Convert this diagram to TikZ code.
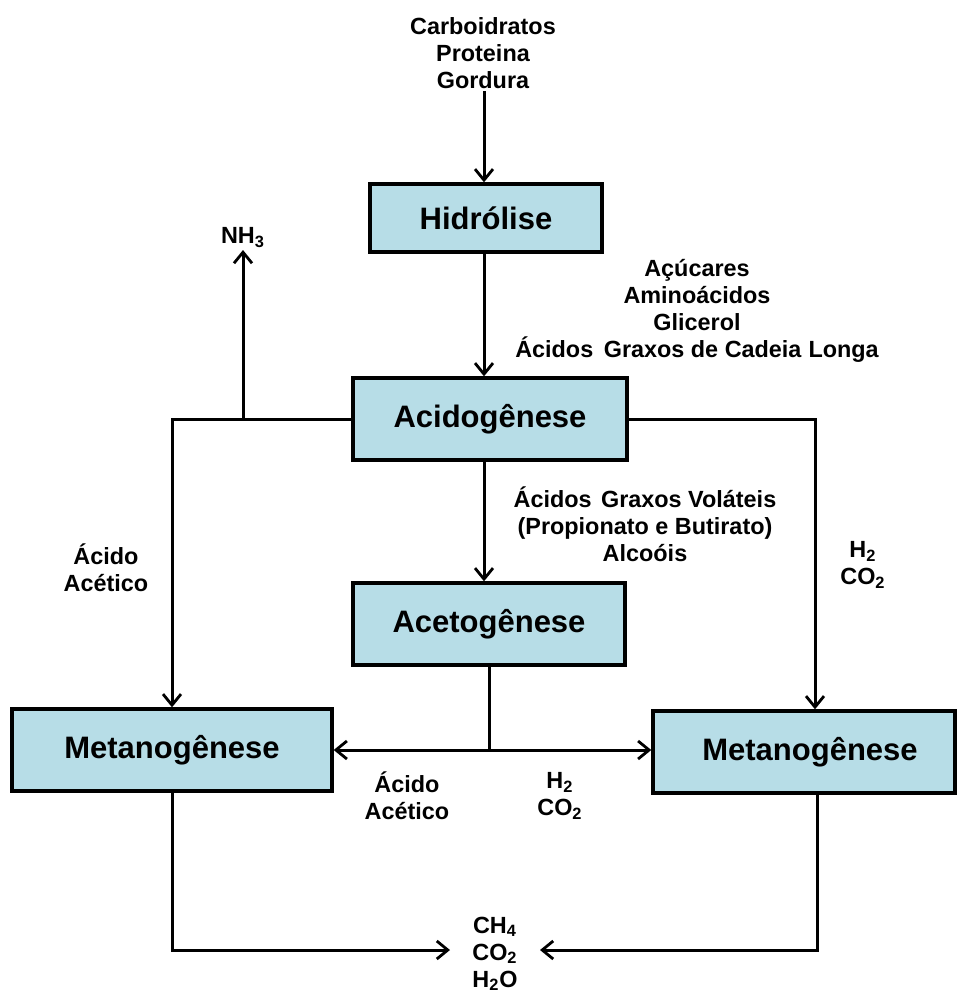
\documentclass[tikz,border=0pt]{standalone}
\usepackage{fontspec}
\setmainfont{Liberation Sans}
\usepackage{tikz}
\usetikzlibrary{calc,arrows.meta}
\definecolor{azulcx}{RGB}{183,221,231}

\begin{document}
\begin{tikzpicture}[x=0.5pt,y=-0.5pt,
    caixa/.style={draw,line width=1.7pt,fill=azulcx,font=\fontsize{15.5}{18}\selectfont\bfseries,inner sep=0pt},
    rot/.style={align=center,inner sep=1pt,font=\fontsize{11.7}{13.5}\selectfont\bfseries},
    seta/.style={-{Straight Barb[length=5.5pt,width=9pt,line width=1.4pt]},line width=1.5pt},
    liga/.style={line width=1.5pt}]
              \useasboundingbox (0,0) rectangle (957,993);
              \node[rot](ent)at(483,53){Carboidratos\\Proteina\\Gordura};
              \node[caixa,minimum width=116pt,minimum height=34pt](hid)at(486,218){Hidrólise};
              \node[caixa,minimum width=137pt,minimum height=41pt](acid)at(490,419){Acidogênese};
              \node[caixa,minimum width=136pt,minimum height=41pt](acet)at(489,624){Acetogênese};
              \node[caixa,minimum width=160pt,minimum height=41pt](metL)at(172,750){Metanogênese};
              \node[caixa,minimum width=151pt,minimum height=41pt](metR)at(804,752){\hspace{6pt}Metanogênese};
              \node[rot](ins)at(697,311){Açúcares\\Aminoácidos\\Glicerol\\Ácidos\hspace{0.45em}Graxos de Cadeia\hspace{0.3em}Longa};
              \node[rot](agv)at(645,524){Ácidos\hspace{0.4em}Graxos Voláteis\\(Propionato e Butirato)\\Alcoóis};
              \node[rot,anchor=south](nh)at(243,250){NH\textsubscript{3}};
              \node[rot](aceL)at(106,568){Ácido\\Acético};
              \node[rot](gasR)at(863,565){H\textsubscript{2}\\CO\textsubscript{2}};
              \node[rot](aceM)at(407,796){Ácido\\Acético};
              \node[rot](gasM)at(560,796){H\textsubscript{2}\\CO\textsubscript{2}};
              \node[rot](prod)at(495,954){CH\textsubscript{4}\\CO\textsubscript{2}\\H\textsubscript{2}O};
              \coordinate(x0)at(484,0);
              \coordinate(nb)at(243,419);
              \coordinate(pl)at(450,950);
              \coordinate(pr)at(540,950);
              \draw[seta](ent.south-|x0)--(x0|-hid.north);
              \draw[seta](x0|-hid.south)--(x0|-acid.north);
              \draw[seta](x0|-acid.south)--(x0|-acet.north);
              \draw[seta](acid.west)-|(metL.north);
              \draw[seta](nb)--(nh.south);
              \draw[seta](acid.east)-|([xshift=5.5pt]metR.north);
              \draw[liga](acet.south)--(acet.south|-metL.east)coordinate(j);
              \draw[seta](j)--(j-|metL.east);
              \draw[seta](j)--(j-|metR.west);
              \draw[seta](metL.south)|-(pl);
              \draw[seta]([xshift=6.5pt]metR.south)|-(pr);
            \end{tikzpicture}
\end{document}
